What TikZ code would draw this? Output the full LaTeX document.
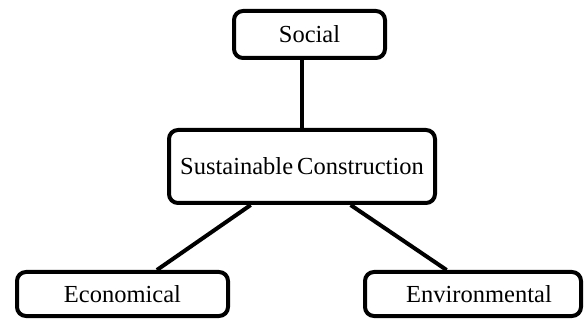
\documentclass[tikz,border=0pt]{standalone}
\usepackage{fontspec}
\setmainfont{Liberation Serif}
\usetikzlibrary{positioning,calc}

\begin{document}
\begin{tikzpicture}[x=1pt, y=1pt,
    main/.style = {draw, rounded corners=9pt, line width=4pt, inner sep=0pt,
        font=\fontsize{24.5}{28}\selectfont},
    link/.style = {line width=4pt}]

    \useasboundingbox (0,0) rectangle (586,-320);

    \node[main, minimum width=266pt, minimum height=73pt] (2) at (302,-166.5) {Sustainable\,Construction};
    \node[main, minimum width=151pt, minimum height=47pt] (1) [above=68pt of 2, xshift=7.5pt] {Social};
    \node[main, minimum width=211pt, minimum height=44pt] (3) [below=65pt of 2, xshift=-179.5pt] {Economical};
    \node[main, minimum width=216pt, minimum height=44pt] (4) [below=65pt of 2, xshift=171pt] {\hspace*{12pt}Environmental};

    %\draw (2.north) -- (1.south);

    \draw[link] (2.north) -- (2.north |- 1.south);
    \draw[link] ($(2.south west)!0.31!(2.south east)$) -- ($(3.north west)!0.66!(3.north east)$);
    \draw[link] ($(2.south west)!0.68!(2.south east)$) -- ($(4.north west)!0.38!(4.north east)$);
\end{tikzpicture}
\end{document}
